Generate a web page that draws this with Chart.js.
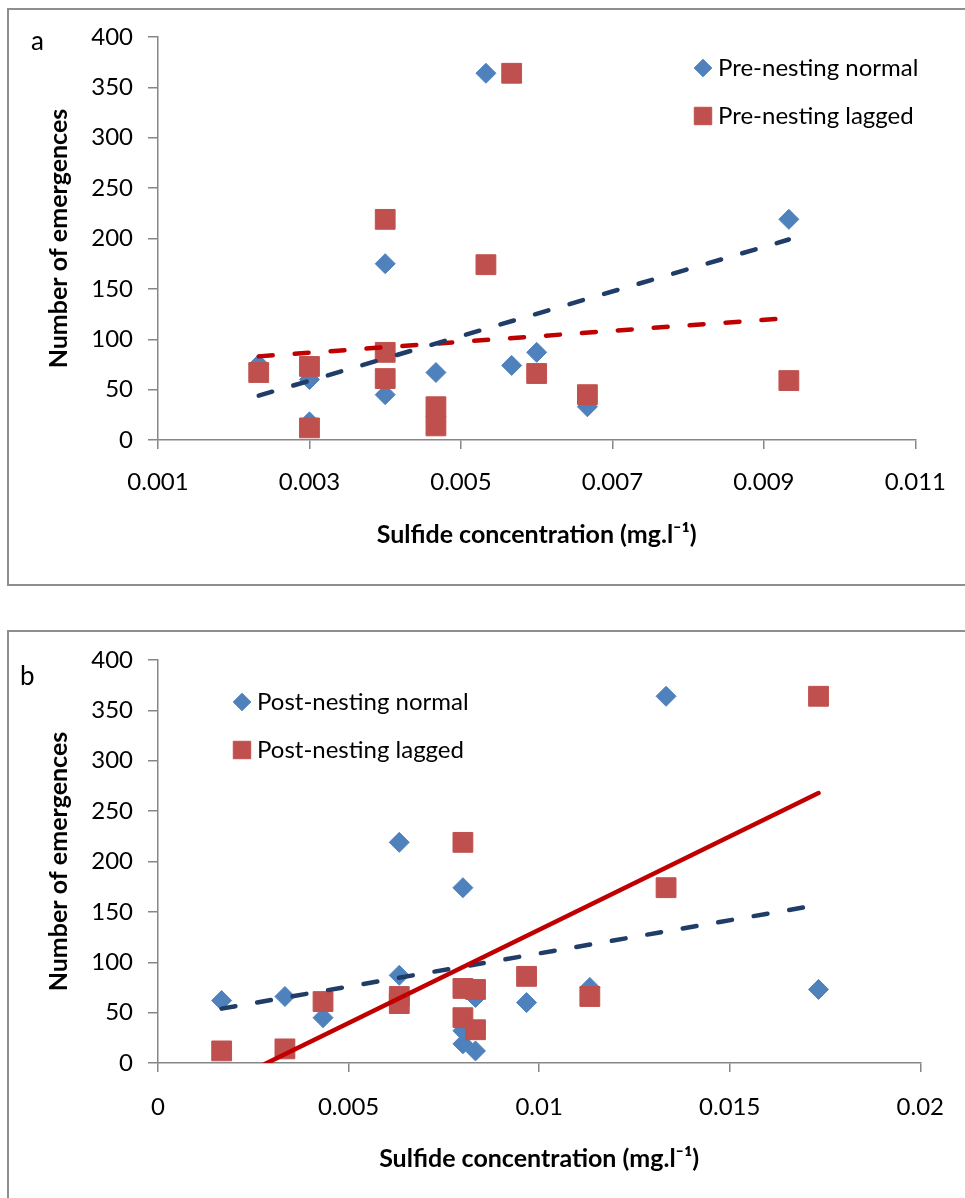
<!DOCTYPE html>
<html>
<head>
<meta charset="utf-8">
<title>Emergences vs sulfide concentration</title>
<script src="https://cdn.jsdelivr.net/npm/chart.js@4.4.1/dist/chart.umd.min.js"></script>
<style>
  html, body { margin: 0; padding: 0; background: #fff; overflow: hidden; }
  body { width: 965px; height: 1198px; position: relative; }
  .frame { position: absolute; left: 7px; width: 990px; border: 2px solid #8e8e8e; box-sizing: border-box; }
  #frame-a { top: 8px; height: 578px; }
  #frame-b { top: 630px; height: 620px; }
  canvas { position: absolute; left: 0; }
  #chart-a { top: 0; }
  #chart-b { top: 600px; }
  .panel { position: absolute; font: 26px Lato, sans-serif; line-height: 26px; color: #000; }
</style>
</head>
<body>
<div class="frame" id="frame-a"></div>
<div class="frame" id="frame-b"></div>
<canvas id="chart-a" width="965" height="600"></canvas>
<canvas id="chart-b" width="965" height="598"></canvas>
<div class="panel" style="left:31px; top:27px;">a</div>
<div class="panel" style="left:20px; top:662px;">b</div>

<script>
// Panel a: pre-nesting
const preNormalX = [0.00233, 0.003, 0.003, 0.004, 0.004, 0.00467, 0.00533, 0.00567, 0.006, 0.00667, 0.00933];
const preNormalY = [75, 60, 18, 175, 45, 67, 364, 74, 87, 33, 219];
const preLaggedX = [0.00233, 0.003, 0.003, 0.004, 0.004, 0.004, 0.00467, 0.00467, 0.00533, 0.00567, 0.006, 0.00667, 0.00933];
const preLaggedY = [67, 73, 12, 219, 87, 61, 33, 14, 174, 364, 66, 45, 59];
const preNormalTrendX = [0.00233, 0.00933];
const preNormalTrendY = [44, 199];
const preLaggedTrendX = [0.00233, 0.00933];
const preLaggedTrendY = [83, 121];

// Panel b: post-nesting
const postNormalX = [0.00167, 0.00333, 0.00433, 0.00633, 0.00633, 0.008, 0.008, 0.008, 0.00833, 0.00833, 0.00967, 0.01133, 0.01333, 0.01733];
const postNormalY = [62, 66, 45, 219, 87, 174, 32, 19, 12, 65, 60, 75, 364, 73];
const postLaggedX = [0.00167, 0.00333, 0.00433, 0.00633, 0.00633, 0.008, 0.008, 0.008, 0.00833, 0.00833, 0.00967, 0.01133, 0.01333, 0.01733];
const postLaggedY = [12, 14, 61, 66, 59, 219, 74, 45, 73, 33, 86, 66, 174, 364];
const postNormalTrendX = [0.00167, 0.01733];
const postNormalTrendY = [54, 157];
const postLaggedTrendX = [0.00167, 0.01733];
const postLaggedTrendY = [-22, 268];

// Axis ticks
const xTickValuesA = [0.001, 0.003, 0.005, 0.007, 0.009, 0.011];
const xTickLabelsA = ['0.001', '0.003', '0.005', '0.007', '0.009', '0.011'];
const xTickValuesB = [0, 0.005, 0.01, 0.015, 0.02];
const xTickLabelsB = ['0', '0.005', '0.01', '0.015', '0.02'];
const yTickValues = [0, 50, 100, 150, 200, 250, 300, 350, 400];
const yTickLabels = ['0', '50', '100', '150', '200', '250', '300', '350', '400'];

const BLUE = '#4f81bd';
const RED = '#c0504d';
const NAVY = '#1f3d66';
const DARK_RED = '#c00000';
const AXIS = '#868686';
const FONT = 'Lato';

const pairs = (xs, ys) => xs.map((x, i) => ({ x, y: ys[i] }));

// legend drawn inside the plot area, markers + names
const insideLegend = {
  id: 'insideLegend',
  afterDatasetsDraw(chart, args, opts) {
    const ctx = chart.ctx;
    ctx.save();
    ctx.font = `${opts.size}px ${FONT}`;
    ctx.textBaseline = 'middle';
    let y = opts.y;
    chart.data.datasets.forEach(ds => {
      if (ds.showLine) return;
      ctx.fillStyle = ds.backgroundColor;
      ctx.strokeStyle = ds.borderColor;
      Chart.helpers.drawPoint(ctx, {
        pointStyle: ds.pointStyle,
        radius: ds.pointRadius * 0.88,
        borderWidth: 1,
        rotation: 0
      }, opts.x, y);
      ctx.fillStyle = '#000';
      ctx.fillText(ds.label, opts.x + 15, y);
      y += opts.gap;
    });
    ctx.restore();
  }
};

function markerSet(label, xs, ys, color, style, radius, order) {
  return {
    label,
    data: pairs(xs, ys),
    backgroundColor: color,
    borderColor: color,
    borderWidth: 1,
    pointStyle: style,
    pointRadius: radius,
    pointHoverRadius: radius,
    showLine: false,
    order
  };
}

function trendSet(label, xs, ys, color, dash, order) {
  return {
    label,
    data: pairs(xs, ys),
    borderColor: color,
    backgroundColor: color,
    borderWidth: 4.5,
    borderDash: dash,
    borderCapStyle: 'round',
    pointRadius: 0,
    showLine: true,
    fill: false,
    order
  };
}

function buildOptions(cfg) {
  return {
    responsive: false,
    animation: false,
    devicePixelRatio: 1,
    layout: { padding: { top: cfg.top, right: cfg.right, left: 0, bottom: 0 } },
    plugins: {
      legend: { display: false },
      tooltip: { enabled: false },
      insideLegend: cfg.legend
    },
    scales: {
      x: {
        type: 'linear',
        min: cfg.xTicks[0],
        max: cfg.xTicks[cfg.xTicks.length - 1],
        afterBuildTicks: scale => { scale.ticks = cfg.xTicks.map(value => ({ value })); },
        afterFit: scale => { scale.height = cfg.xHeight; },
        grid: { drawOnChartArea: false, drawTicks: true, tickLength: 9, color: AXIS, lineWidth: 1.5 },
        border: { display: true, color: AXIS, width: 1.5 },
        ticks: {
          autoSkip: false,
          maxRotation: 0,
          padding: cfg.xTickPad,
          color: '#000',
          font: { family: FONT, size: 24 },
          callback: (v, i) => cfg.xLabels[i]
        },
        title: {
          display: true,
          text: 'Sulfide concentration (mg.l\u207B\u00B9)',
          color: '#000',
          font: { family: FONT, size: 25, weight: 'bold' },
          padding: { top: 0, bottom: cfg.xTitlePad }
        }
      },
      y: {
        type: 'linear',
        min: 0,
        max: 400,
        afterBuildTicks: scale => { scale.ticks = yTickValues.map(value => ({ value })); },
        afterFit: scale => { scale.width = 158; },
        grid: { drawOnChartArea: false, drawTicks: true, tickLength: 10, color: AXIS, lineWidth: 1.5 },
        border: { display: true, color: AXIS, width: 1.5 },
        ticks: {
          padding: 15,
          color: '#000',
          font: { family: FONT, size: 24 },
          callback: (v, i) => yTickLabels[i]
        },
        title: {
          display: true,
          text: 'Number of emergences',
          color: '#000',
          font: { family: FONT, size: 25, weight: 'bold' },
          padding: { top: 44, bottom: 0 }
        }
      }
    }
  };
}

new Chart(document.getElementById('chart-a'), {
  type: 'scatter',
  data: {
    datasets: [
      trendSet('Pre-nesting normal trend', preNormalTrendX, preNormalTrendY, NAVY, [14, 22], 0),
      trendSet('Pre-nesting lagged trend', preLaggedTrendX, preLaggedTrendY, DARK_RED, [14, 22], 1),
      markerSet('Pre-nesting normal', preNormalX, preNormalY, BLUE, 'rectRot', 10, 3),
      markerSet('Pre-nesting lagged', preLaggedX, preLaggedY, RED, 'rect', 14, 2)
    ]
  },
  options: buildOptions({
    top: 37, right: 47, xHeight: 160, xTickPad: 19, xTitlePad: 50,
    xTicks: xTickValuesA, xLabels: xTickLabelsA,
    legend: { x: 703, y: 68, gap: 48, size: 24 }
  }),
  plugins: [insideLegend]
});

new Chart(document.getElementById('chart-b'), {
  type: 'scatter',
  data: {
    datasets: [
      trendSet('Post-nesting lagged trend', postLaggedTrendX, postLaggedTrendY, DARK_RED, [], 0),
      trendSet('Post-nesting normal trend', postNormalTrendX, postNormalTrendY, NAVY, [14, 22], 1),
      markerSet('Post-nesting normal', postNormalX, postNormalY, BLUE, 'rectRot', 10, 3),
      markerSet('Post-nesting lagged', postLaggedX, postLaggedY, RED, 'rect', 14, 2)
    ]
  },
  options: buildOptions({
    top: 60, right: 43, xHeight: 135, xTickPad: 21, xTitlePad: 24,
    xTicks: xTickValuesB, xLabels: xTickLabelsB,
    legend: { x: 242, y: 102, gap: 48, size: 24 }
  }),
  plugins: [insideLegend]
});
</script>
</body>
</html>
